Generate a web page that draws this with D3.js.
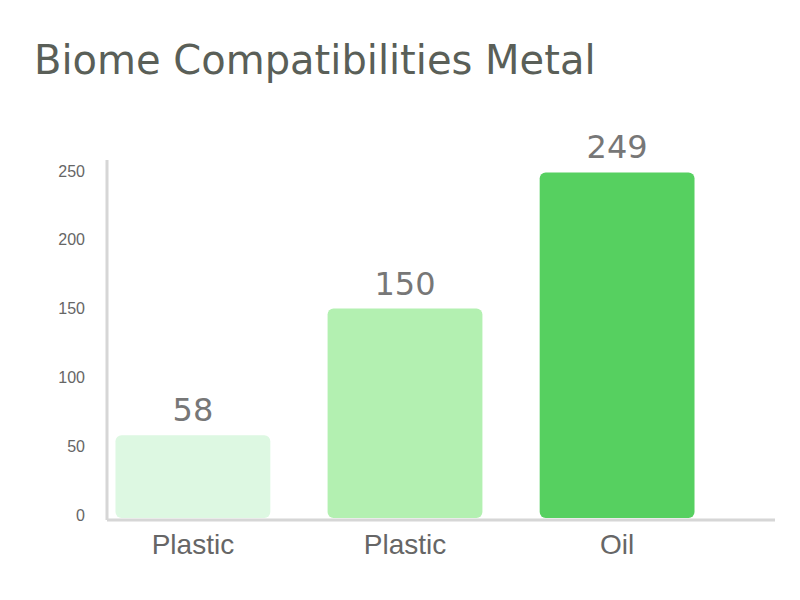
<!DOCTYPE html>
<html>
<head>
<meta charset="utf-8">
<script src="https://cdn.jsdelivr.net/npm/d3@7"></script>
<style>
    body { margin: 0; background: #fff; }
    svg { font-family: "DejaVu Sans", sans-serif; }
</style>
</head>
<body>
<div id="chart"></div>
<script>
// chart data
const categories = ['Plastic', 'Plastic', 'Oil'];
const values = [58, 150, 249];
const barColors = ['#ddf8e2', '#b3f0b1', '#56d060'];
const yTicks = [0, 50, 100, 150, 200, 250];
const title = 'Biome Compatibilities Metal';

const width = 800;
const height = 600;
const margin = { top: 171, right: 97, bottom: 85, left: 107 };

const svg = d3.select('#chart')
    .append('svg')
    .attr('width', width)
    .attr('height', height);

const x = d3.scaleBand()
    .domain(d3.range(categories.length))
    .range([margin.left, width - margin.right])
    .paddingInner(0.27)
    .paddingOuter(0.04);

const y = d3.scaleLinear()
    .domain([0, 250])
    .range([height - margin.bottom, margin.top]);

// title
svg.append('text')
    .attr('x', 34)
    .attr('y', 74)
    .attr('font-size', 40)
    .attr('fill', '#5a5f58')
    .text(title);

// bars
svg.append('g')
    .selectAll('rect')
    .data(values)
    .join('rect')
    .attr('x', (d, i) => x(i))
    .attr('y', d => y(d))
    .attr('width', x.bandwidth())
    .attr('height', d => y(0) - y(d) + 3)
    .attr('rx', 6)
    .attr('fill', (d, i) => barColors[i]);

// value labels
svg.append('g')
    .selectAll('text')
    .data(values)
    .join('text')
    .attr('x', (d, i) => x(i) + x.bandwidth() / 2)
    .attr('y', d => y(d) - 14)
    .attr('text-anchor', 'middle')
    .attr('font-size', 32)
    .attr('fill', '#777')
    .text(d => d);

// y axis
const yAxis = svg.append('g')
    .attr('transform', `translate(${margin.left},0)`)
    .call(d3.axisLeft(y).tickValues(yTicks).tickSize(0).tickPadding(22));
yAxis.select('.domain').remove();
yAxis.selectAll('text')
    .attr('font-size', 16)
    .attr('fill', '#666');

svg.append('line')
    .attr('x1', margin.left).attr('x2', margin.left)
    .attr('y1', 160).attr('y2', y(0) + 5)
    .attr('stroke', '#d6d6d6')
    .attr('stroke-width', 3);

// x axis
const xAxis = svg.append('g')
    .attr('transform', `translate(0,${y(0) + 5})`)
    .call(d3.axisBottom(x).tickFormat(i => categories[i]).tickSize(0).tickPadding(14));
xAxis.select('.domain').remove();
xAxis.selectAll('text')
    .attr('font-size', 28)
    .attr('fill', '#666');

svg.append('line')
    .attr('x1', margin.left).attr('x2', 775)
    .attr('y1', y(0) + 5).attr('y2', y(0) + 5)
    .attr('stroke', '#d6d6d6')
    .attr('stroke-width', 3);
</script>
</body>
</html>
